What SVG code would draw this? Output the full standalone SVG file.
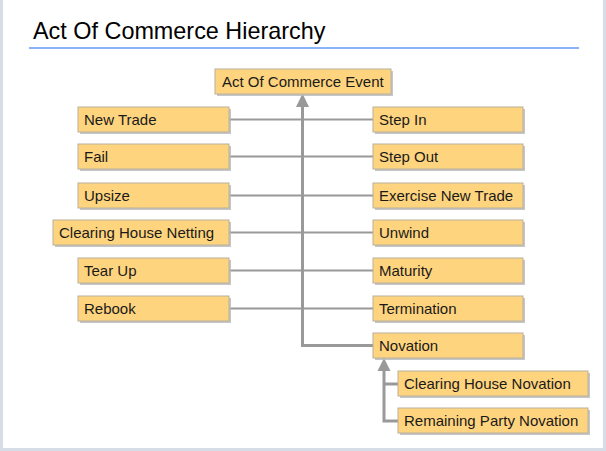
<svg xmlns="http://www.w3.org/2000/svg" width="606" height="451" viewBox="0 0 606 451">
<style>
.frame{fill:#d7dde7}
.title{font-family:"Liberation Sans",Arial,sans-serif;font-size:23.4px;fill:#000}
.box{fill:#ffd47e;stroke:#b9b09a;stroke-width:1}
.shadow{fill:#b8b8b8;opacity:0.8}
.lbl{font-family:"Liberation Sans",Arial,sans-serif;font-size:15px;fill:#1a1a1a}
.thin{stroke:#999;stroke-width:2;fill:none}
.thick{stroke:#999;stroke-width:3;fill:none}
.head{fill:#999}
</style>
<rect x="0" y="0" width="606" height="451" fill="#ffffff"/>
<rect class="frame" x="0" y="0" width="3" height="451"/>
<rect class="frame" x="603" y="0" width="3" height="451"/>
<rect class="frame" x="0" y="448" width="606" height="3"/>
<text class="title" x="33" y="39">Act Of Commerce Hierarchy</text>
<rect x="29" y="47" width="550" height="2" fill="#8ab4f8"/>
<g id="connectors">
<path class="thin" d="M229 119.5H373M229 156.5H373M229 195.5H373M229 232.5H373M229 270.5H373M229 308.5H373"/>
<path class="thick" d="M302.5 106V345.5H373"/>
<polygon class="head" points="302.5,93.5 296,107 309,107"/>
<path class="thick" d="M384 370V421H398M384 384H398"/>
<polygon class="head" points="384,358 377.5,371 390.5,371"/>
</g>
<g id="n-root"><rect class="shadow" x="217" y="71" width="176" height="25"/><rect class="box" x="215" y="69" width="176" height="25"/><text class="lbl" x="222" y="87">Act Of Commerce Event</text></g>
<g id="n-newtrade"><rect class="shadow" x="80" y="109" width="151" height="25"/><rect class="box" x="78" y="107" width="151" height="25"/><text class="lbl" x="84" y="125">New Trade</text></g>
<g id="n-fail"><rect class="shadow" x="80" y="146" width="151" height="25"/><rect class="box" x="78" y="144" width="151" height="25"/><text class="lbl" x="84" y="162">Fail</text></g>
<g id="n-upsize"><rect class="shadow" x="80" y="185" width="151" height="25"/><rect class="box" x="78" y="183" width="151" height="25"/><text class="lbl" x="84" y="201">Upsize</text></g>
<g id="n-chnetting"><rect class="shadow" x="55" y="222" width="176" height="25"/><rect class="box" x="53" y="220" width="176" height="25"/><text class="lbl" x="59" y="238">Clearing House Netting</text></g>
<g id="n-tearup"><rect class="shadow" x="80" y="260" width="151" height="25"/><rect class="box" x="78" y="258" width="151" height="25"/><text class="lbl" x="84" y="276">Tear Up</text></g>
<g id="n-rebook"><rect class="shadow" x="80" y="298" width="151" height="25"/><rect class="box" x="78" y="296" width="151" height="25"/><text class="lbl" x="84" y="314">Rebook</text></g>
<g id="n-stepin"><rect class="shadow" x="375" y="109" width="150" height="25"/><rect class="box" x="373" y="107" width="150" height="25"/><text class="lbl" x="379" y="125">Step In</text></g>
<g id="n-stepout"><rect class="shadow" x="375" y="146" width="150" height="25"/><rect class="box" x="373" y="144" width="150" height="25"/><text class="lbl" x="379" y="162">Step Out</text></g>
<g id="n-exercise"><rect class="shadow" x="375" y="185" width="150" height="25"/><rect class="box" x="373" y="183" width="150" height="25"/><text class="lbl" x="379" y="201">Exercise New Trade</text></g>
<g id="n-unwind"><rect class="shadow" x="375" y="222" width="150" height="25"/><rect class="box" x="373" y="220" width="150" height="25"/><text class="lbl" x="379" y="238">Unwind</text></g>
<g id="n-maturity"><rect class="shadow" x="375" y="260" width="150" height="25"/><rect class="box" x="373" y="258" width="150" height="25"/><text class="lbl" x="379" y="276">Maturity</text></g>
<g id="n-termination"><rect class="shadow" x="375" y="298" width="150" height="25"/><rect class="box" x="373" y="296" width="150" height="25"/><text class="lbl" x="379" y="314">Termination</text></g>
<g id="n-novation"><rect class="shadow" x="375" y="335" width="150" height="25"/><rect class="box" x="373" y="333" width="150" height="25"/><text class="lbl" x="379" y="351">Novation</text></g>
<g id="n-chnovation"><rect class="shadow" x="400" y="373" width="190" height="25"/><rect class="box" x="398" y="371" width="190" height="25"/><text class="lbl" x="404" y="389">Clearing House Novation</text></g>
<g id="n-rpnovation"><rect class="shadow" x="400" y="410" width="190" height="25"/><rect class="box" x="398" y="408" width="190" height="25"/><text class="lbl" x="404" y="426">Remaining Party Novation</text></g>
</svg>
